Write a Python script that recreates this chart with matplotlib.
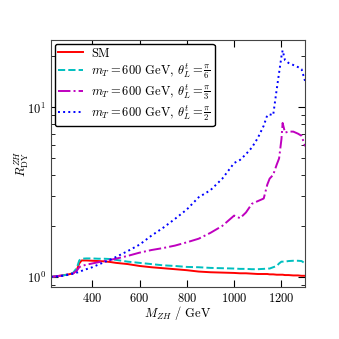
import matplotlib
matplotlib.use('Agg')
import matplotlib.pyplot as plt

plt.rcParams['font.family'] = 'serif'
plt.rcParams['font.serif'] = ['cmr10', 'DejaVu Serif']
plt.rcParams['mathtext.fontset'] = 'cm'
plt.rcParams['axes.unicode_minus'] = False
plt.rcParams['axes.formatter.use_mathtext'] = True

# invariant mass grid (GeV)
mass = [225, 250, 275, 300, 320, 335, 345, 355, 375, 400, 425, 450, 475, 500,
        550, 600, 650, 700, 750, 800, 850, 900, 950, 1000, 1025, 1050, 1075,
        1100, 1125, 1140, 1150, 1165, 1180, 1190, 1200, 1205, 1215, 1230,
        1250, 1270, 1285, 1300]

r_sm = [1.0, 1.01, 1.02, 1.035, 1.05, 1.10, 1.20, 1.25, 1.25, 1.245, 1.24,
        1.235, 1.225, 1.21, 1.19, 1.16, 1.14, 1.125, 1.11, 1.095, 1.075,
        1.065, 1.06, 1.055, 1.05, 1.05, 1.045, 1.04, 1.04, 1.04, 1.035,
        1.035, 1.03, 1.03, 1.03, 1.03, 1.025, 1.025, 1.02, 1.02, 1.015, 1.015]

r_pi6 = [1.0, 1.01, 1.02, 1.035, 1.06, 1.13, 1.25, 1.28, 1.285, 1.285, 1.28,
         1.28, 1.275, 1.26, 1.23, 1.21, 1.19, 1.17, 1.16, 1.145, 1.14, 1.13,
         1.125, 1.12, 1.115, 1.115, 1.11, 1.11, 1.115, 1.12, 1.12, 1.14,
         1.16, 1.2, 1.23, 1.23, 1.23, 1.24, 1.245, 1.245, 1.24, 1.2]

r_pi3 = [1.0, 1.01, 1.02, 1.035, 1.05, 1.09, 1.14, 1.16, 1.18, 1.2, 1.22,
         1.24, 1.26, 1.28, 1.33, 1.39, 1.44, 1.48, 1.53, 1.6, 1.68, 1.82,
         2.0, 2.3, 2.22, 2.4, 2.7, 2.8, 2.9, 3.5, 3.8, 4.0, 4.6, 5.0, 6.5,
         8.1, 7.1, 7.2, 7.2, 7.0, 6.8, 5.9]

r_pi2 = [1.0, 1.005, 1.015, 1.03, 1.045, 1.06, 1.07, 1.085, 1.11, 1.14,
         1.18, 1.22, 1.26, 1.31, 1.42, 1.55, 1.75, 1.95, 2.2, 2.5, 2.95,
         3.25, 3.8, 4.7, 4.9, 5.3, 5.8, 6.6, 7.8, 9.0, 9.1, 9.0, 12.8, 16.0,
         20.0, 21.7, 19.0, 18.3, 17.8, 17.3, 16.8, 14.3]

fig = plt.figure(figsize=(3.39, 3.39), dpi=100)
ax = fig.add_axes([0.15, 0.153, 0.75, 0.729])

ax.plot(mass, r_sm, color='r', lw=1.4, ls='-', label='SM')
ax.plot(mass, r_pi6, color='c', lw=1.4, ls='--',
        label=r'$m_T = 600$ GeV, $\theta_L^t = \frac{\pi}{6}$')
ax.plot(mass, r_pi3, color='m', lw=1.4, ls='-.',
        label=r'$m_T = 600$ GeV, $\theta_L^t = \frac{\pi}{3}$')
ax.plot(mass, r_pi2, color='b', lw=1.4, ls=':',
        label=r'$m_T = 600$ GeV, $\theta_L^t = \frac{\pi}{2}$')

ax.set_yscale('log')
ax.set_xlim(225, 1300)
ax.set_ylim(0.87, 25)
ax.set_xticks([400, 600, 800, 1000, 1200])
ax.tick_params(which='both', direction='in', top=True, right=True, labelsize=9)
ax.tick_params(which='major', length=5)
ax.tick_params(which='minor', length=3)
for s in ax.spines.values():
    s.set_color('#444444')

ax.set_xlabel(r'$M_{ZH}$ / GeV', fontsize=9, labelpad=-0.5)
ax.set_ylabel(r'$R_{\rm DY}^{ZH}$', fontsize=9, labelpad=-3)

leg = ax.legend(loc='upper left', fontsize=9, frameon=True, fancybox=True,
                framealpha=1, edgecolor='black', borderaxespad=0.3,
                handlelength=2.0, labelspacing=0.1, borderpad=0.3,
                handletextpad=0.6)
leg.get_frame().set_linewidth(1.0)

fig.savefig('out.png', dpi=100)
